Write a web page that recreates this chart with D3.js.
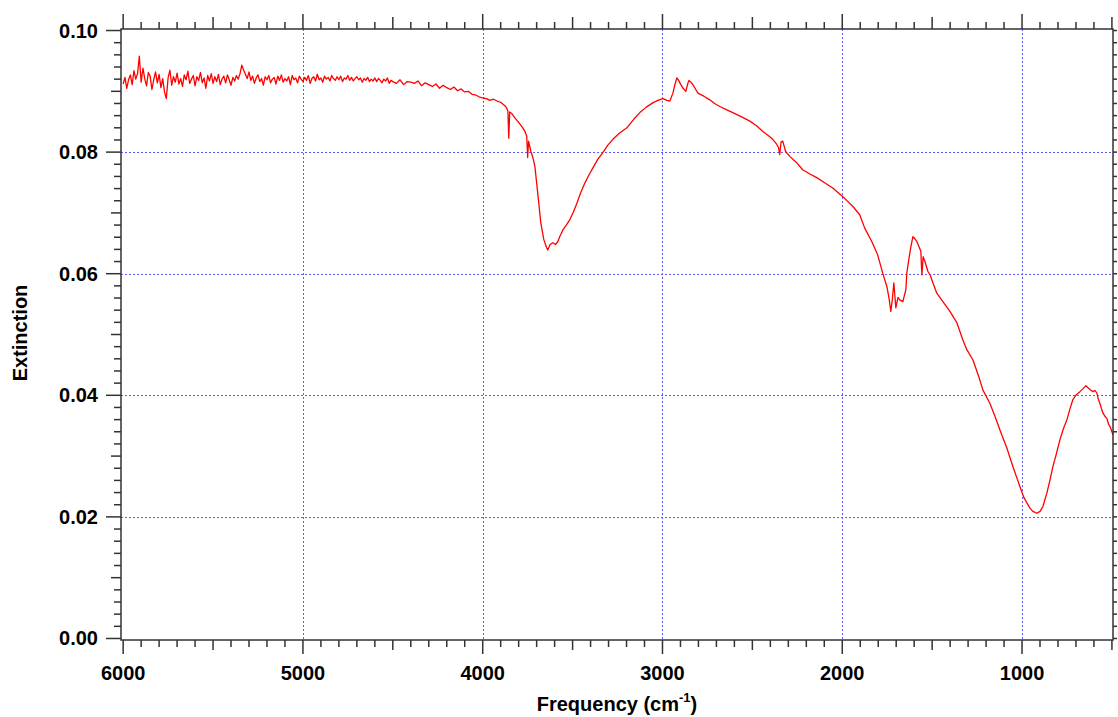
<!DOCTYPE html>
<html><head><meta charset="utf-8">
<script src="https://cdn.jsdelivr.net/npm/d3@7"></script>
<style>
html,body{margin:0;padding:0;background:#fff;}
svg text{font-family:"Liberation Sans",Arial,sans-serif;font-weight:bold;fill:#000;}
</style></head>
<body>
<svg id="chart" width="1118" height="717"></svg>
<script>
// ---- data ----
const frequency = [
6000,5990,5980,5970,5960,5950,5940,5930,5920,5910,5900,5890,5880,5870,5860,5850,5840,5830,5820,5810,
5800,5790,5780,5770,5760,5750,5740,5730,5720,5710,5700,5690,5680,5670,5660,5650,5640,5630,5620,5610,
5600,5590,5580,5570,5560,5550,5540,5530,5520,5510,5500,
5490,5480,5470,5460,5450,5440,5430,5420,5410,5400,5390,5380,5370,5360,5350,5340,5330,5320,5310,5300,
5290,5280,5270,5260,5250,5240,5230,5220,5210,5200,5190,5180,5170,5160,5150,5140,5130,5120,5110,5100,
5090,5080,5070,5060,5050,5040,5030,5020,5010,5000,4990,4980,4970,4960,4950,4940,4930,4920,4910,4900,
4890,4880,4870,4860,4850,4840,4830,4820,4810,4800,4790,4780,4770,4760,4750,4740,4730,4720,4710,4700,
4690,4680,4670,4660,4650,4640,4630,4620,4610,4600,4590,4580,4570,4560,4550,4540,4530,4520,4510,4500,
4480,4460,4440,4420,4400,4380,4360,4340,4320,4300,4280,4260,4240,4220,4200,4180,4160,4140,4120,4100,
4080,4060,4040,4020,4000,3980,3960,3940,3920,3900,
3880,3870,3860,3855,3850,3840,3820,3800,3780,3765,3755,3750,3745,3732,3720,3710,3694,3677,3660,3645,
3638,3625,3610,3595,3582,3570,3554,3535,3515,3495,3476,3455,3432,3410,3387,3360,3332,3305,3276,3240,
3198,3160,3126,3090,3054,3025,2998,2975,2959,2942,2930,2920,2910,2898,2885,2870,2860,2853,2842,2831,
2815,2803,2770,2737,2710,2681,2645,2609,2560,2514,2475,2442,2410,2387,2365,2355,2348,2340,2331,2315,
2292,2255,2220,2180,2142,2100,2053,1998,1970,1942,1903,1875,1836,1803,1775,1752,1740,1730,1722,1713,
1702,1690,1680,1663,1646,1641,1630,1618,1607,1595,1585,1563,1557,1550,1540,1524,1510,1496,1474,1440,
1401,1362,1329,1307,1273,1240,1218,1179,1150,1123,1084,1051,1012,990,973,955,940,917,900,884,
862,845,828,808,789,770,750,733,717,698,678,660,645,639,620,606,595,584,575,567,
558,550,540,528,518,511,500,494
];
const extinction = [
0.0912,0.0923,0.0905,0.0919,0.0927,0.0911,0.0934,0.0920,0.0929,0.0958,
0.0915,0.0938,0.0921,0.0909,0.0931,0.0925,0.0903,0.0919,0.0932,0.0914,
0.0928,0.0906,0.0921,0.0899,0.0888,0.0922,0.0935,0.0910,0.0924,0.0915,
0.0930,0.0912,0.0921,0.0908,0.0927,0.0919,0.0933,0.0913,0.0920,0.0926,
0.0909,0.0924,0.0918,0.0931,0.0914,0.0922,0.0905,0.0926,0.0917,0.0929,
0.0913,
0.0924,0.0916,0.0928,0.0911,0.0920,0.0925,0.0914,0.0927,0.0919,0.0910,
0.0923,0.0917,0.0926,0.0920,0.0929,0.0943,0.0935,0.0928,0.0921,0.0932,
0.0918,0.0925,0.0913,0.0922,0.0927,0.0916,0.0921,0.0910,0.0924,0.0919,
0.0926,0.0914,0.0920,0.0923,0.0912,0.0925,0.0918,0.0927,0.0915,0.0921,
0.0917,0.0924,0.0911,0.0926,0.0919,0.0922,0.0914,0.0925,0.0920,0.0916,
0.0923,0.0918,0.0926,0.0913,0.0921,0.0924,0.0917,0.0928,0.0919,0.0922,
0.0915,0.0925,0.0920,0.0923,0.0917,0.0926,0.0921,0.0918,0.0924,0.0919,
0.0925,0.0916,0.0922,0.0920,0.0926,0.0918,0.0923,0.0917,0.0921,0.0924,
0.0919,0.0922,0.0915,0.0921,0.0918,0.0923,0.0916,0.0920,0.0917,0.0922,
0.0916,0.0921,0.0918,0.0914,0.0920,0.0917,0.0922,0.0913,0.0918,0.0916,
0.0913,0.0919,0.0911,0.0916,0.0915,0.0913,0.0917,0.0909,0.0914,0.0911,
0.0908,0.0912,0.0905,0.0910,0.0906,0.0903,0.0907,0.0901,0.0904,0.0899,
0.0900,0.0895,0.0894,0.0891,0.0889,0.0888,0.0885,0.0887,0.0884,0.0882,
0.0877,0.0874,0.0868,0.0823,0.0866,0.0864,0.0856,0.0849,0.0841,0.0834,0.0826,0.0791,0.0818,0.0801,0.0790,0.0777,0.0733,0.0684,0.0656,0.0643,
0.0639,0.0648,0.0651,0.0648,0.0653,0.0662,0.0672,0.0680,0.0689,0.0702,0.0716,0.0733,0.0749,0.0762,0.0774,0.0788,0.0799,0.0811,0.0821,0.0831,
0.0840,0.0854,0.0865,0.0874,0.0881,0.0885,0.0888,0.0885,0.0884,0.0897,0.0912,0.0922,0.0918,0.0911,0.0905,0.0900,0.0912,0.0918,0.0915,0.0911,
0.0903,0.0897,0.0892,0.0886,0.0880,0.0875,0.0870,0.0865,0.0858,0.0851,0.0843,0.0834,0.0827,0.0821,0.0813,0.0808,0.0796,0.0817,0.0818,0.0801,
0.0793,0.0783,0.0771,0.0764,0.0758,0.0750,0.0741,0.0727,0.0719,0.0711,0.0697,0.0675,0.0653,0.0631,0.0601,0.0579,0.0560,0.0538,0.0556,0.0585,
0.0544,0.0561,0.0557,0.0554,0.0574,0.0601,0.0623,0.0645,0.0661,0.0657,0.0653,0.0637,0.0598,0.0628,0.0620,0.0604,0.0597,0.0585,0.0568,0.0554,
0.0538,0.0519,0.0491,0.0475,0.0458,0.0430,0.0409,0.0387,0.0365,0.0343,0.0313,0.0283,0.0250,0.0232,0.0223,0.0214,0.0209,0.0206,0.0209,0.0217,
0.0239,0.0260,0.0283,0.0305,0.0327,0.0345,0.0360,0.0378,0.0393,0.0401,0.0406,0.0411,0.0416,0.0414,0.0409,0.0406,0.0408,0.0404,0.0393,0.0387,
0.0378,0.0371,0.0366,0.0362,0.0352,0.0349,0.0340,0.0335
];
const xTickValues = [6000, 5000, 4000, 3000, 2000, 1000];
const yTickValues = [0.00, 0.02, 0.04, 0.06, 0.08, 0.10];
const xDomain = [6012, 494];
const yDomain = [-0.00025, 0.10025];
const xTitle = "Frequency (cm";
const xTitleSup = "-1";
const yTitle = "Extinction";

// ---- layout ----
const L = 121, R = 1113, T = 29, B = 640;
const svg = d3.select("#chart");
const x = d3.scaleLinear().domain(xDomain).range([L, R]);
const y = d3.scaleLinear().domain(yDomain).range([B, T]);

const axisColor = "#333";
const gridColor = "#5a5aff";

// grid
svg.append("g").selectAll("line").data(xTickValues.filter(d => d !== 6000)).join("line")
  .attr("x1", d => Math.round(x(d)) + 0.5).attr("x2", d => Math.round(x(d)) + 0.5)
  .attr("y1", T).attr("y2", B)
  .attr("stroke", gridColor).attr("stroke-width", 1).attr("stroke-dasharray", "2,2");
svg.append("g").selectAll("line").data(yTickValues.filter(d => d > 0 && d < 0.1)).join("line")
  .attr("y1", d => Math.round(y(d)) + 0.5).attr("y2", d => Math.round(y(d)) + 0.5)
  .attr("x1", L).attr("x2", R)
  .attr("stroke", gridColor).attr("stroke-width", 1).attr("stroke-dasharray", "2,2");

// curve
const pts = frequency.map((f, i) => [f, extinction[i]]);
svg.append("path").datum(pts)
  .attr("d", d3.line().x(d => x(d[0])).y(d => y(d[1])))
  .attr("fill", "none").attr("stroke", "#ff0000").attr("stroke-width", 1.3)
  .attr("stroke-linejoin", "round");

// minor tick positions
const xMinor = d3.range(6000, 499, -100);
const yMinor = d3.range(0, 0.1001, 0.002).map(v => +v.toFixed(3));

function xLen(f) { return f % 1000 === 0 ? 14 : (f % 500 === 0 ? 10 : 7); }
function yLen(v) { const k = Math.round(v * 1000); return k % 20 === 0 ? 15 : (k % 10 === 0 ? 10 : 7); }

const tg = svg.append("g").attr("stroke", axisColor).attr("stroke-width", 1.5);
tg.selectAll(".bt").data(xMinor).join("line").attr("class", "bt")
  .attr("x1", d => x(d)).attr("x2", d => x(d)).attr("y1", B).attr("y2", d => B + xLen(d));
tg.selectAll(".tt").data(xMinor).join("line").attr("class", "tt")
  .attr("x1", d => x(d)).attr("x2", d => x(d)).attr("y1", T).attr("y2", d => T - (xLen(d) === 14 ? 15 : xLen(d) === 10 ? 12 : 7));
tg.selectAll(".lt").data(yMinor).join("line").attr("class", "lt")
  .attr("y1", d => y(d)).attr("y2", d => y(d)).attr("x1", L).attr("x2", d => L - yLen(d));
tg.selectAll(".rt").data(yMinor).join("line").attr("class", "rt")
  .attr("y1", d => y(d)).attr("y2", d => y(d)).attr("x1", R).attr("x2", R + 4);

// frame
svg.append("rect").attr("x", L).attr("y", T).attr("width", R - L).attr("height", B - T)
  .attr("fill", "none").attr("stroke", axisColor).attr("stroke-width", 1.5);

// tick labels
svg.append("g").selectAll("text").data(xTickValues).join("text")
  .attr("x", d => x(d)).attr("y", 680).attr("text-anchor", "middle")
  .style("font-size", "20px").text(d => d);
svg.append("g").selectAll("text").data(yTickValues).join("text")
  .attr("x", 98).attr("y", d => y(d) + 7).attr("text-anchor", "end")
  .style("font-size", "20px").text(d => d3.format(".2f")(d));

// axis titles
const xt = svg.append("text").attr("x", 617).attr("y", 711).attr("text-anchor", "middle").style("font-size", "20px");
xt.append("tspan").text(xTitle);
xt.append("tspan").attr("dy", -9).style("font-size", "13px").text(xTitleSup);
xt.append("tspan").attr("dy", 9).text(")");

svg.append("text").attr("transform", "translate(27,333) rotate(-90)")
  .attr("text-anchor", "middle").style("font-size", "20px").text(yTitle);
</script>
</body></html>
